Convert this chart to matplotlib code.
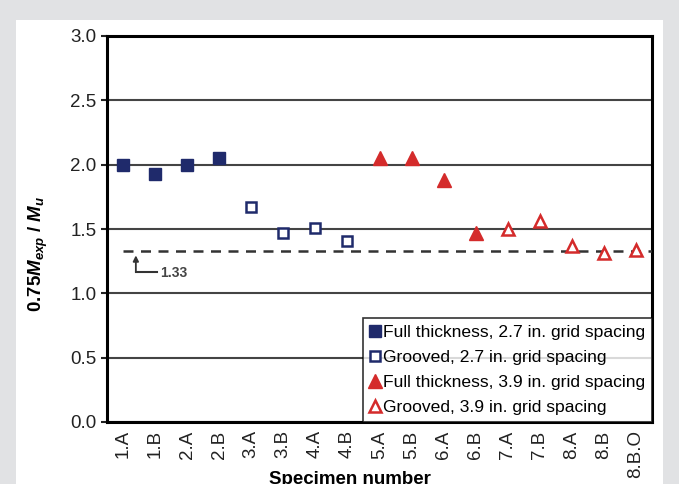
import matplotlib.pyplot as plt
from matplotlib.patches import Rectangle

plt.rcParams['font.family'] = ['Liberation Sans', 'DejaVu Sans']
plt.rcParams['mathtext.fontset'] = 'custom'
plt.rcParams['mathtext.rm'] = 'Liberation Sans:bold'
plt.rcParams['mathtext.it'] = 'Liberation Sans:bold:italic'
plt.rcParams['mathtext.bf'] = 'Liberation Sans:bold'

# specimen labels along the x axis
specimens = ['1.A', '1.B', '2.A', '2.B', '3.A', '3.B', '4.A', '4.B', '5.A',
             '5.B', '6.A', '6.B', '7.A', '7.B', '8.A', '8.B', '8.B.O']

# series (specimen, value)
full_27_x = ['1.A', '1.B', '2.A', '2.B']
full_27_y = [2.00, 1.93, 2.00, 2.05]
groove_27_x = ['3.A', '3.B', '4.A', '4.B']
groove_27_y = [1.67, 1.47, 1.51, 1.41]
full_39_x = ['5.A', '5.B', '6.A', '6.B']
full_39_y = [2.05, 2.05, 1.88, 1.47]
groove_39_x = ['7.A', '7.B', '8.A', '8.B', '8.B.O']
groove_39_y = [1.50, 1.56, 1.37, 1.31, 1.34]

limit = 1.33

navy = '#1f2a6b'
red = '#d42b2b'

fig = plt.figure(figsize=(6.79, 4.84), dpi=100)
fig.patch.set_facecolor('#e1e2e4')
# white panel inside the grey border
fig.patches.append(Rectangle((16 / 679, 0), (663 - 16) / 679, (484 - 20) / 484,
                             transform=fig.transFigure, facecolor='white',
                             edgecolor='none', zorder=-10))

ax = fig.add_axes([107 / 679, 62 / 484, 545 / 679, 386 / 484])
ax.set_zorder(5)
idx = {s: i for i, s in enumerate(specimens)}

ax.plot([idx[s] for s in full_27_x], full_27_y, 's', color=navy, ms=8.5,
        mec=navy, label='Full thickness, 2.7 in. grid spacing', zorder=4)
ax.plot([idx[s] for s in groove_27_x], groove_27_y, 's', mfc='white', ms=7.5,
        mec=navy, mew=1.8, label='Grooved, 2.7 in. grid spacing', zorder=4)
ax.plot([idx[s] for s in full_39_x], full_39_y, '^', color=red, ms=9.5,
        label='Full thickness, 3.9 in. grid spacing', zorder=4)
ax.plot([idx[s] for s in groove_39_x], groove_39_y, '^', mfc='white', ms=8.5,
        mec=red, mew=1.8, label='Grooved, 3.9 in. grid spacing', zorder=4)

# 1.33 limit line and its callout
ax.plot([0, 16.5], [limit, limit], color='#333333', lw=1.8, ls=(0, (4, 3)), zorder=3)
ax.annotate('', xy=(0.4, 1.295), xytext=(0.4, 1.165),
            arrowprops=dict(arrowstyle='-|>', color='#333333', lw=1.3,
                            mutation_scale=8, shrinkA=0, shrinkB=0))
ax.plot([0.4, 1.05], [1.165, 1.165], color='#333333', lw=1.5)
ax.text(1.15, 1.16, '1.33', fontsize=10, fontweight='bold', color='#444444',
        va='center', ha='left')

ax.set_xlim(-0.5, 16.5)
ax.set_ylim(0, 3.0)
ax.set_yticks([0, 0.5, 1.0, 1.5, 2.0, 2.5, 3.0])
ax.set_yticklabels(['0.0', '0.5', '1.0', '1.5', '2.0', '2.5', '3.0'])
ax.set_xticks(range(len(specimens)))
ax.set_xticklabels(specimens, rotation=90)
ax.tick_params(axis='y', labelsize=13.5, length=4, width=1.5, colors='#222222')
ax.tick_params(axis='x', labelsize=13.5, length=0, pad=6, colors='#222222')
ax.yaxis.grid(True, color='#444444', lw=1.5)
ax.set_axisbelow(True)
for sp in ax.spines.values():
    sp.set_linewidth(2.2)
    sp.set_color('black')

ax.set_ylabel(r'0.75$M_{exp}$ / $M_u$', fontsize=13.5, fontweight='bold')
ax.yaxis.set_label_coords(-0.105, 0.435)
ax.set_xlabel('Specimen number', fontsize=13.5, fontweight='bold')
ax.xaxis.set_label_coords(0.446, -0.128)
ax.xaxis.label.set_va('top')

leg = ax.legend(loc='lower right', bbox_to_anchor=(1.0, 0.0), fontsize=12.6,
                frameon=True, fancybox=False, borderpad=0.4, labelspacing=0.55,
                handlelength=0.6, handletextpad=0.15, borderaxespad=0)
leg.get_frame().set_edgecolor('black')
leg.get_frame().set_linewidth(1.2)

fig.savefig('out.png', dpi=100)
